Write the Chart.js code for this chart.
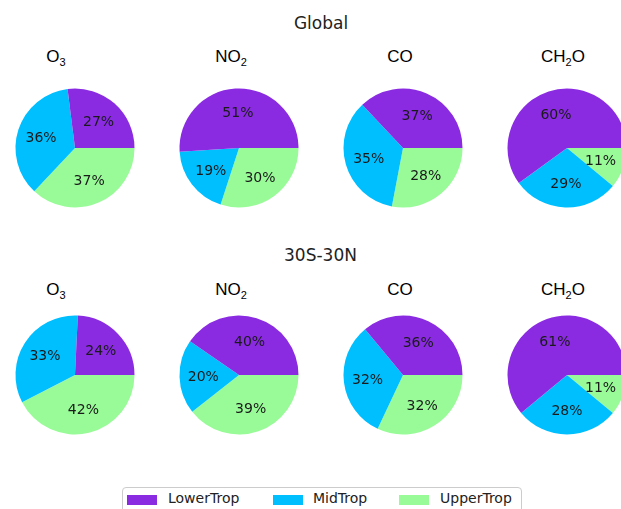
<!DOCTYPE html>
<html>
<head>
<meta charset="utf-8">
<script src="https://cdn.jsdelivr.net/npm/chart.js@4.4.0/dist/chart.umd.min.js"></script>
<style>
	body { margin: 0; width: 621px; height: 509px; overflow: hidden; background: #fff; position: relative; }
	.lbl { position: absolute; transform: translate(-50%, -50%); white-space: nowrap; }
	.group { font-family: "DejaVu Sans", sans-serif; font-size: 17px; color: #222; }
	.species { font-family: "Liberation Sans", Arial, sans-serif; font-size: 17px; color: #000; }
	.species sub { font-size: 11px; vertical-align: -4px; line-height: 0; }
	canvas { position: absolute; }
	#legend { position: absolute; left: 122px; top: 487px; width: 398px; height: 32px; border: 1px solid #ccc; border-radius: 4px; font-family: "DejaVu Sans", sans-serif; font-size: 14px; color: #222; }
	.sw { position: absolute; top: 7px; width: 30px; height: 10px; }
	.lt { position: absolute; top: 2px; }
</style>
</head>
<body>
<script>
const groups = ["Global", "30S-30N"];
const species = ["O<sub>3</sub>", "NO<sub>2</sub>", "CO", "CH<sub>2</sub>O"];
const layers = ["LowerTrop", "MidTrop", "UpperTrop"];
const layerColors = ["#8a2be2", "#00bfff", "#98fb98"];

// percent share of each layer, per species (O3, NO2, CO, CH2O)
const globalLower = [27, 51, 37, 60];
const globalMid = [36, 19, 35, 29];
const globalUpper = [37, 30, 28, 11];
const tropLower = [24, 40, 36, 61];
const tropMid = [33, 20, 32, 28];
const tropUpper = [42, 39, 32, 11];

const rows = [
	[globalLower, globalMid, globalUpper],
	[tropLower, tropMid, tropUpper]
];

const colX = [75, 239.3, 403, 567];
const rowY = [147.5, 374.7];
const titleX = [56, 231, 400, 563];
const titleY = [56.5, 289.5];
const groupPos = [[321, 22.5], [320.5, 255]];
const size = 140;

function addLabel(cls, html, x, y) {
	const d = document.createElement("div");
	d.className = "lbl " + cls;
	d.innerHTML = html;
	d.style.left = x + "px";
	d.style.top = y + "px";
	document.body.appendChild(d);
}

// percentage text at 0.6 of the radius, like matplotlib autopct
const pctLabels = {
	id: "pctLabels",
	afterDatasetsDraw(chart) {
		const ctx = chart.ctx;
		const vals = chart.data.datasets[0].data;
		ctx.save();
		ctx.font = "14px 'DejaVu Sans'";
		ctx.fillStyle = "#1a1a1a";
		ctx.textAlign = "center";
		ctx.textBaseline = "middle";
		chart.getDatasetMeta(0).data.forEach(function(arc, i) {
			const p = arc.getProps(["x", "y", "startAngle", "endAngle", "outerRadius"], true);
			const mid = (p.startAngle + p.endAngle) / 2;
			const r = p.outerRadius * 0.6;
			ctx.fillText(vals[i] + "%", p.x + Math.cos(mid) * r, p.y + Math.sin(mid) * r + 1);
		});
		ctx.restore();
	}
};

groups.forEach(function(g, gi) {
	addLabel("group", g, groupPos[gi][0], groupPos[gi][1]);
	species.forEach(function(s, si) {
		addLabel("species", s, titleX[si], titleY[gi]);

		const canvas = document.createElement("canvas");
		canvas.width = size;
		canvas.height = size;
		canvas.style.left = (colX[si] - size / 2) + "px";
		canvas.style.top = (rowY[gi] - size / 2) + "px";
		document.body.appendChild(canvas);

		// matplotlib draws counterclockwise from 3 o'clock, so feed slices reversed and clockwise
		const vals = rows[gi].map(function(arr) { return arr[si]; }).reverse();
		new Chart(canvas.getContext("2d"), {
			type: "pie",
			data: {
				labels: layers.slice().reverse(),
				datasets: [{
					data: vals,
					backgroundColor: layerColors.slice().reverse(),
					borderWidth: 0,
					radius: 59.5
				}]
			},
			options: {
				rotation: 90,
				responsive: false,
				animation: false,
				devicePixelRatio: 1,
				layout: { padding: 0 },
				plugins: {
					legend: { display: false },
					tooltip: { enabled: false }
				}
			},
			plugins: [pctLabels]
		});
	});
});

const legend = document.createElement("div");
legend.id = "legend";
const swX = [4, 150, 276];
const txX = [45, 190, 317];
layers.forEach(function(name, i) {
	const sw = document.createElement("div");
	sw.className = "sw";
	sw.style.left = swX[i] + "px";
	sw.style.background = layerColors[i];
	legend.appendChild(sw);
	const t = document.createElement("div");
	t.className = "lt";
	t.style.left = txX[i] + "px";
	t.textContent = name;
	legend.appendChild(t);
});
document.body.appendChild(legend);
</script>
</body>
</html>
